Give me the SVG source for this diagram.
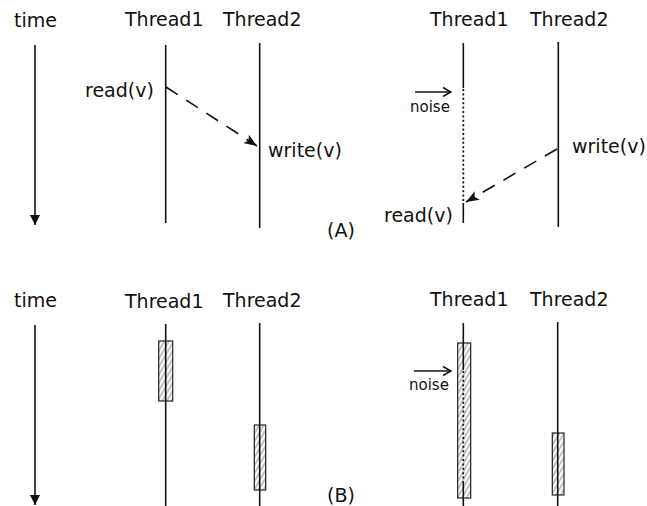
<svg xmlns="http://www.w3.org/2000/svg" width="647" height="506" viewBox="0 0 647 506">
<defs>
<style>
text{font-family:"DejaVu Sans",sans-serif;fill:#111;}
.lbl{font-size:19px;}
.sm{font-size:15px;}
.ln{stroke:#111;stroke-width:1.6;fill:none;}
.dash{stroke:#111;stroke-width:1.6;fill:none;stroke-dasharray:14 10;}
.dot{stroke:#111;stroke-width:1.8;fill:none;stroke-dasharray:2 2.4;}
.box{fill:url(#hatch);stroke:#222;stroke-width:1.2;}
</style>
<marker id="tri" markerWidth="10" markerHeight="10" viewBox="0 0 10 10" refX="10" refY="5" orient="auto" markerUnits="userSpaceOnUse">
<path d="M0,0 L10,5 L0,10 Z" fill="#111"/>
</marker>
<marker id="arr" markerWidth="14" markerHeight="10" viewBox="0 0 14 10" refX="13" refY="5" orient="auto" markerUnits="userSpaceOnUse">
<path d="M0,0 L13,5 L0,10 L3,5 Z" fill="#111"/>
</marker>
<marker id="open" markerWidth="10" markerHeight="10" viewBox="0 0 10 10" refX="9" refY="5" orient="auto" markerUnits="userSpaceOnUse">
<path d="M1,0.5 L9,5 L1,9.5" fill="none" stroke="#111" stroke-width="1.6"/>
</marker>
<pattern id="hatch" patternUnits="userSpaceOnUse" width="4" height="4" patternTransform="rotate(30)">
<rect width="4" height="4" fill="#fff"/>
<line x1="1" y1="0" x2="1" y2="4" stroke="#888" stroke-width="1"/>
</pattern>
</defs>
<rect width="647" height="506" fill="#fff"/>

<g id="panelA-labels">
<text class="lbl" x="14" y="27">time</text>
<text class="lbl" x="125" y="26">Thread1</text>
<text class="lbl" x="223" y="26">Thread2</text>
<text class="lbl" x="430" y="26">Thread1</text>
<text class="lbl" x="530" y="26">Thread2</text>
<text class="lbl" x="327" y="237">(A)</text>
</g>

<g id="panelB-labels">
<text class="lbl" x="14" y="307">time</text>
<text class="lbl" x="125" y="308">Thread1</text>
<text class="lbl" x="223" y="307">Thread2</text>
<text class="lbl" x="430" y="306">Thread1</text>
<text class="lbl" x="530" y="306">Thread2</text>
<text class="lbl" x="327" y="502">(B)</text>
</g>

<g id="timeA"><line class="ln" x1="35" y1="45" x2="35" y2="225" marker-end="url(#tri)"/></g>
<g id="timeB"><line class="ln" x1="35" y1="325" x2="35" y2="505" marker-end="url(#tri)"/></g>

<g id="A-left-thread1"><line class="ln" x1="165.7" y1="45" x2="165.7" y2="223"/>
<text class="lbl" x="85" y="97">read(v)</text></g>
<g id="A-left-thread2"><line class="ln" x1="259.7" y1="43" x2="259.7" y2="228"/>
<text class="lbl" x="268" y="157">write(v)</text></g>

<g id="A-right-thread1">
<line class="ln" x1="463.3" y1="43" x2="463.3" y2="88"/>
<line class="dot" x1="463.3" y1="89" x2="463.3" y2="201"/>
<line class="ln" x1="463.3" y1="203" x2="463.3" y2="223"/>
<text class="lbl" x="384" y="222">read(v)</text>
</g>
<g id="A-right-thread2"><line class="ln" x1="558.3" y1="42" x2="558.3" y2="227"/>
<text class="lbl" x="572" y="153">write(v)</text></g>
<g id="A-noise">
<line class="ln" x1="415" y1="92" x2="451" y2="92" stroke-width="1.4" marker-end="url(#open)"/>
<text class="sm" x="410" y="112">noise</text>
</g>

<g id="B-left-thread1">
<line class="ln" x1="165.7" y1="324" x2="165.7" y2="506"/>
<rect class="box" x="158.7" y="341" width="14" height="60"/>
<line class="ln" x1="165.7" y1="341" x2="165.7" y2="401"/>
</g>
<g id="B-left-thread2">
<line class="ln" x1="259.7" y1="323" x2="259.7" y2="506"/>
<rect class="box" x="254.3" y="425" width="11.4" height="65"/>
<line class="ln" x1="259.7" y1="425" x2="259.7" y2="490"/>
</g>

<g id="B-right-thread1">
<line class="ln" x1="463.3" y1="323" x2="463.3" y2="343"/>
<rect class="box" x="457.7" y="343" width="13" height="155"/>
<line class="ln" x1="463.3" y1="343" x2="463.3" y2="370"/>
<line class="dot" x1="463.3" y1="371" x2="463.3" y2="482"/>
<line class="ln" x1="463.3" y1="482" x2="463.3" y2="506"/>
</g>
<g id="B-right-thread2">
<line class="ln" x1="557.7" y1="322" x2="557.7" y2="506"/>
<rect class="box" x="552.3" y="433" width="11.7" height="62"/>
<line class="ln" x1="557.7" y1="433" x2="557.7" y2="495"/>
</g>
<g id="B-noise">
<line class="ln" x1="414" y1="371" x2="451" y2="371" stroke-width="1.4" marker-end="url(#open)"/>
<text class="sm" x="409" y="390">noise</text>
</g>

<g id="connectors">
<line class="dash" x1="166" y1="87" x2="257" y2="146" stroke-dasharray="8 8 14 10 14 10 14 10" marker-end="url(#arr)"/>
<line class="dash" x1="557" y1="149" x2="466" y2="202" stroke-dasharray="10 10 14 10 14 10 14 10" marker-end="url(#arr)"/>
</g>
</svg>
